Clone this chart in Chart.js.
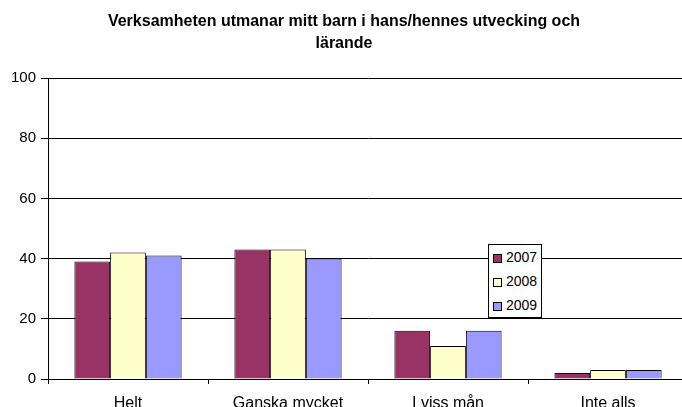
<!DOCTYPE html>
<html>
<head>
<meta charset="utf-8">
<script src="https://cdn.jsdelivr.net/npm/chart.js@4/dist/chart.umd.min.js"></script>
<style>
  html, body { margin: 0; padding: 0; background: #fff; overflow: hidden; }
  #wrap { position: relative; width: 694px; height: 407px; }
  #legend {
    position: absolute; left: 488px; top: 244px; width: 52px;
    border: 1px solid #000; background: #fff;
    font: 14px "Liberation Sans", Arial, sans-serif; color: #000;
  }
  #legend div { height: 24px; line-height: 24px; white-space: nowrap; }
  #legend span {
    display: inline-block; width: 7px; height: 7px; border: 1px solid #000;
    margin: 0 4px 0 4px; vertical-align: -1px;
  }
</style>
</head>
<body>
<div id="wrap">
  <canvas id="chart"></canvas>
  <div id="legend"></div>
</div>
<script>
// data
const kategorier = ['Helt', 'Ganska mycket', 'I viss mån', 'Inte alls'];
const ar = ['2007', '2008', '2009'];
const v2007 = [39, 43, 16, 2];
const v2008 = [42, 43, 11, 3];
const v2009 = [41, 40, 16, 3];
const yTicks = [0, 20, 40, 60, 80, 100];
const farger = ['#993366', '#FFFFCC', '#9999FF'];

const titel = ['Verksamheten utmanar mitt barn i hans/hennes utvecking och', 'lärande'];
const FONT = '"Liberation Sans", Arial, sans-serif';

// legend as html
const leg = document.getElementById('legend');
ar.forEach((a, i) => {
    const row = document.createElement('div');
    const sq = document.createElement('span');
    sq.style.background = farger[i];
    row.appendChild(sq);
    row.appendChild(document.createTextNode(a));
    leg.appendChild(row);
});

const serier = [v2007, v2008, v2009];

new Chart(document.getElementById('chart'), {
    type: 'bar',
    data: {
        labels: kategorier,
        datasets: ar.map((a, i) => ({
            label: a,
            data: serier[i],
            backgroundColor: farger[i],
            borderColor: '#000',
            borderWidth: 1,
            categoryPercentage: 0.67,
            barPercentage: 1
        }))
    },
    options: {
        responsive: true,
        maintainAspectRatio: false,
        animation: false,
        layout: { padding: { left: 0, right: 6, top: 0, bottom: 0 } },
        plugins: {
            legend: { display: false },
            tooltip: { enabled: false },
            title: {
                display: true,
                text: titel,
                color: '#000',
                font: { family: FONT, size: 16, weight: 'bold', lineHeight: 1.375 },
                padding: { top: 11, bottom: 23 }
            }
        },
        scales: {
            x: {
                grid: { offset: true, drawOnChartArea: false, tickLength: 5, color: '#000' },
                border: { color: '#000' },
                ticks: { color: '#000', font: { family: FONT, size: 16 }, padding: 10, maxRotation: 0 },
                afterFit: s => { s.height = 28; }
            },
            y: {
                min: 0,
                max: 100,
                afterBuildTicks: s => { s.ticks = yTicks.map(v => ({ value: v })); },
                grid: { color: '#000', tickLength: 7 },
                border: { color: '#000' },
                ticks: { color: '#000', font: { family: FONT, size: 15 }, padding: 5 },
                afterFit: s => { s.width = 48; }
            }
        }
    }
});
</script>
</body>
</html>
